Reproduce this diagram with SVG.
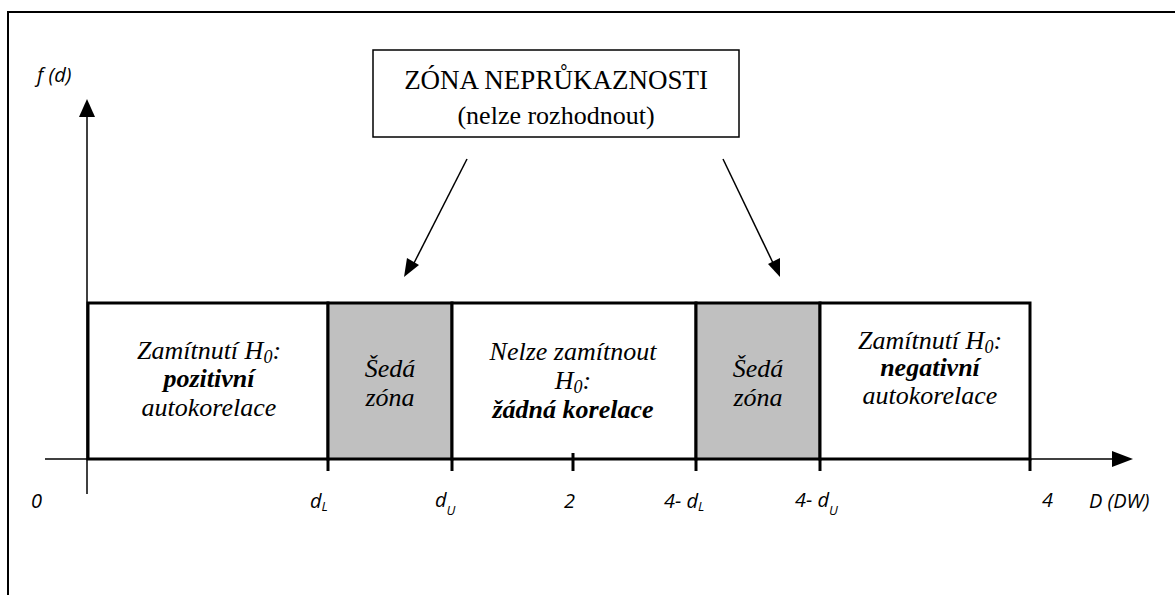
<svg xmlns="http://www.w3.org/2000/svg" width="1175" height="595" viewBox="0 0 1175 595">
<style>
.frame{fill:none;stroke:#000;stroke-width:2}
.box{fill:#fff;stroke:#000;stroke-width:3}
.grey{fill:#c0c0c0;stroke:#000;stroke-width:3}
.ax{stroke:#000;stroke-width:1.5;fill:none}
.tick{stroke:#000;stroke-width:3}
.arr{stroke:#000;stroke-width:1.5;fill:none}
.head{fill:#000}
</style>
<rect width="1175" height="595" fill="#fff"/>
<path class="frame" d="M8,600 L8,12 L1180,12"/>

<g id="connectors">
<line class="ax" x1="87" y1="494" x2="87" y2="112"/>
<path class="head" d="M79,117 L87,99 L95,117 z"/>
<line class="ax" x1="45" y1="459" x2="1114" y2="459"/>
<path class="head" d="M1112,451 L1133,459 L1112,467 z"/>
<line class="arr" x1="467" y1="159" x2="413" y2="265"/>
<path class="head" d="M404,277 L407,258 L419,265 z"/>
<line class="arr" x1="723" y1="159" x2="774" y2="265"/>
<path class="head" d="M780,277 L768,264 L780,258 z"/>
</g>

<g id="title" font-family="'Liberation Serif', 'Times New Roman', serif" text-anchor="middle" fill="#000">
<rect x="373" y="50" width="366" height="87" fill="#fff" stroke="#000" stroke-width="1.5"/>
<text x="556" y="89" font-size="27">ZÓNA NEPRŮKAZNOSTI</text>
<text x="556" y="124" font-size="26">(nelze rozhodnout)</text>
</g>

<g font-family="'Liberation Serif', 'Times New Roman', serif" font-style="italic" font-size="26" text-anchor="middle" fill="#000">
<g id="zone-positive">
<rect class="box" x="88" y="303" width="240" height="156"/>
<text x="209" y="359">Zamítnutí H<tspan font-size="18" dy="4">0</tspan><tspan dy="-4">:</tspan></text>
<text x="209" y="387" font-weight="bold">pozitivní</text>
<text x="209" y="416">autokorelace</text>
</g>
<g id="grey-left">
<rect class="grey" x="328" y="303" width="124" height="156"/>
<text x="390" y="377">Šedá</text>
<text x="390" y="406">zóna</text>
</g>
<g id="zone-none">
<rect class="box" x="452" y="303" width="244" height="156"/>
<text x="573" y="360">Nelze zamítnout</text>
<text x="573" y="389">H<tspan font-size="18" dy="4">0</tspan><tspan dy="-4">:</tspan></text>
<text x="573" y="418" font-weight="bold">žádná korelace</text>
</g>
<g id="grey-right">
<rect class="grey" x="696" y="303" width="124" height="156"/>
<text x="758" y="377">Šedá</text>
<text x="758" y="406">zóna</text>
</g>
<g id="zone-negative">
<rect class="box" x="820" y="303" width="210" height="156"/>
<text x="930" y="349">Zamítnutí H<tspan font-size="18" dy="4">0</tspan><tspan dy="-4">:</tspan></text>
<text x="930" y="376" font-weight="bold">negativní</text>
<text x="930" y="404">autokorelace</text>
</g>
</g>

<g id="ticks">
<line class="tick" x1="328" y1="459" x2="328" y2="471"/>
<line class="tick" x1="452" y1="459" x2="452" y2="471"/>
<line class="tick" x1="573" y1="453" x2="573" y2="471"/>
<line class="tick" x1="696" y1="459" x2="696" y2="471"/>
<line class="tick" x1="820" y1="459" x2="820" y2="471"/>
<line class="tick" x1="1030" y1="459" x2="1030" y2="471"/>
</g>

<g id="labels" font-family="'Open Sans', 'Liberation Sans', sans-serif" font-style="italic" font-size="20" fill="#000">
<text x="37" y="82">f (d)</text>
<text x="31" y="508">0</text>
<text x="310" y="508">d<tspan font-size="13" dy="3">L</tspan></text>
<text x="435" y="507">d<tspan font-size="13" dy="8">U</tspan></text>
<text x="564" y="508">2</text>
<text x="664" y="508">4- d<tspan font-size="13" dy="3">L</tspan></text>
<text x="795" y="507">4- d<tspan font-size="13" dy="8">U</tspan></text>
<text x="1042" y="507">4</text>
<text x="1089" y="508">D (DW)</text>
</g>
</svg>
